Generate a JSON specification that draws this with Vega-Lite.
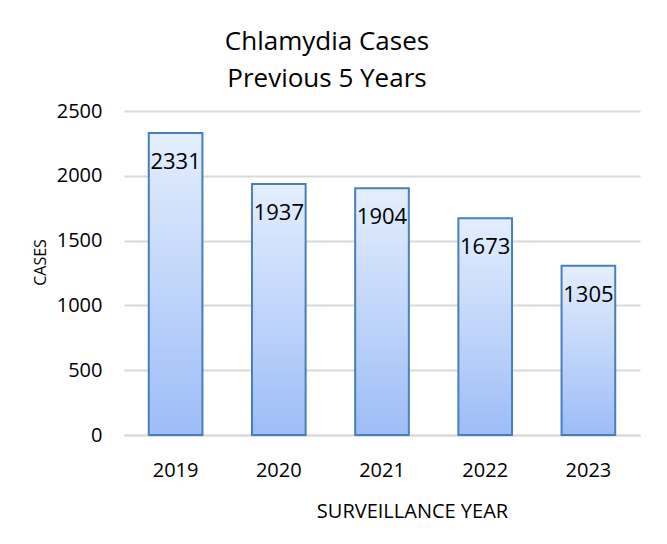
{
  "$schema": "https://vega.github.io/schema/vega-lite/v6.json",
  "autosize": "none",
  "width": 516,
  "height": 324,
  "padding": {"left": 124, "top": 111, "right": 27, "bottom": 109},
  "background": "white",
  "config": {
    "font": "Open Sans",
    "view": {"stroke": null}
  },
  "title": {
    "text": ["Chlamydia Cases", "Previous 5 Years"],
    "font": "Open Sans",
    "fontSize": 26,
    "fontWeight": "normal",
    "color": "#000000",
    "anchor": "middle",
    "dx": -55,
    "offset": 9,
    "lineHeight": 37
  },
  "data": {
    "values": [
      {"year": "2019", "cases": 2331},
      {"year": "2020", "cases": 1937},
      {"year": "2021", "cases": 1904},
      {"year": "2022", "cases": 1673},
      {"year": "2023", "cases": 1305}
    ]
  },
  "encoding": {
    "x": {
      "field": "year",
      "type": "nominal",
      "title": "SURVEILLANCE YEAR",
      "scale": {"paddingInner": 0.48, "paddingOuter": 0.24},
      "axis": {
        "labelAngle": 0,
        "labelFontSize": 20,
        "labelColor": "#000000",
        "labelPadding": 25,
        "ticks": false,
        "domainColor": "#d9d9d9",
        "domainWidth": 2,
        "titleFontSize": 20,
        "titleFontWeight": "normal",
        "titleColor": "#000000",
        "titlePadding": 21,
        "titleX": 288
      }
    },
    "y": {
      "field": "cases",
      "type": "quantitative",
      "title": "CASES",
      "scale": {"domain": [0, 2500]},
      "axis": {
        "values": [0, 500, 1000, 1500, 2000, 2500],
        "format": "d",
        "labelFontSize": 20,
        "labelColor": "#000000",
        "labelPadding": 22,
        "ticks": false,
        "domain": false,
        "gridColor": "#d9d9d9",
        "gridWidth": 2,
        "titleFontSize": 16,
        "titleFontWeight": "normal",
        "titleColor": "#000000",
        "titlePadding": 8,
        "titleY": 151
      }
    }
  },
  "layer": [
    {
      "mark": {
        "type": "bar",
        "stroke": "#4a7ebb",
        "strokeWidth": 2,
        "color": {
          "gradient": "linear",
          "x1": 0, "y1": 0, "x2": 0, "y2": 1,
          "stops": [
            {"offset": 0, "color": "#e4eefd"},
            {"offset": 1, "color": "#9dbdf7"}
          ]
        }
      }
    },
    {
      "mark": {
        "type": "text",
        "baseline": "middle",
        "dy": 29,
        "fontSize": 22,
        "color": "#000000"
      },
      "encoding": {
        "text": {"field": "cases", "type": "quantitative"}
      }
    }
  ]
}
